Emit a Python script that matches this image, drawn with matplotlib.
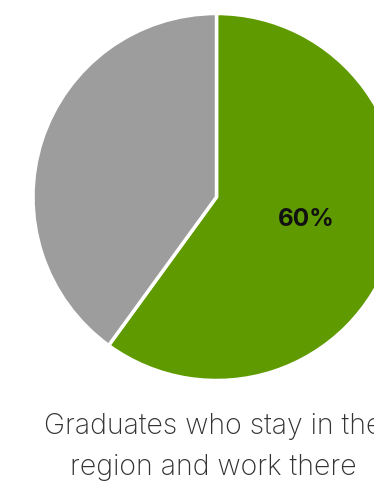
import matplotlib
matplotlib.use("Agg")
import matplotlib.pyplot as plt

# share of graduates who stay vs. leave
labels = ["Stay and work", "Leave"]
shares = [60, 40]
colors = ["#5f9a00", "#9d9d9d"]
caption = "Graduates who stay in the\nregion and work there"

fig = plt.figure(figsize=(3.74, 4.82), dpi=100)
ax = fig.add_axes([0, 0, 1, 1])

ax.pie(shares, colors=colors, startangle=90, counterclock=False,
       center=(216.5, 285), radius=183.5, frame=True,
       wedgeprops=dict(edgecolor="white", linewidth=2.5))
ax.set_xlim(0, 374)
ax.set_ylim(0, 482)
ax.set_aspect("equal")
ax.axis("off")

ax.text(306, 262, f"{shares[0]}%", ha="center", va="center",
        fontsize=17.5, fontweight="bold", family="Inter", color="#111111")

# caption runs past the right edge in the original too
ax.text(213, 35, caption, ha="center", va="center", fontsize=20.5,
        family="Inter", fontweight="light", color="#333333",
        linespacing=1.62)

fig.savefig("out.png", dpi=100)
